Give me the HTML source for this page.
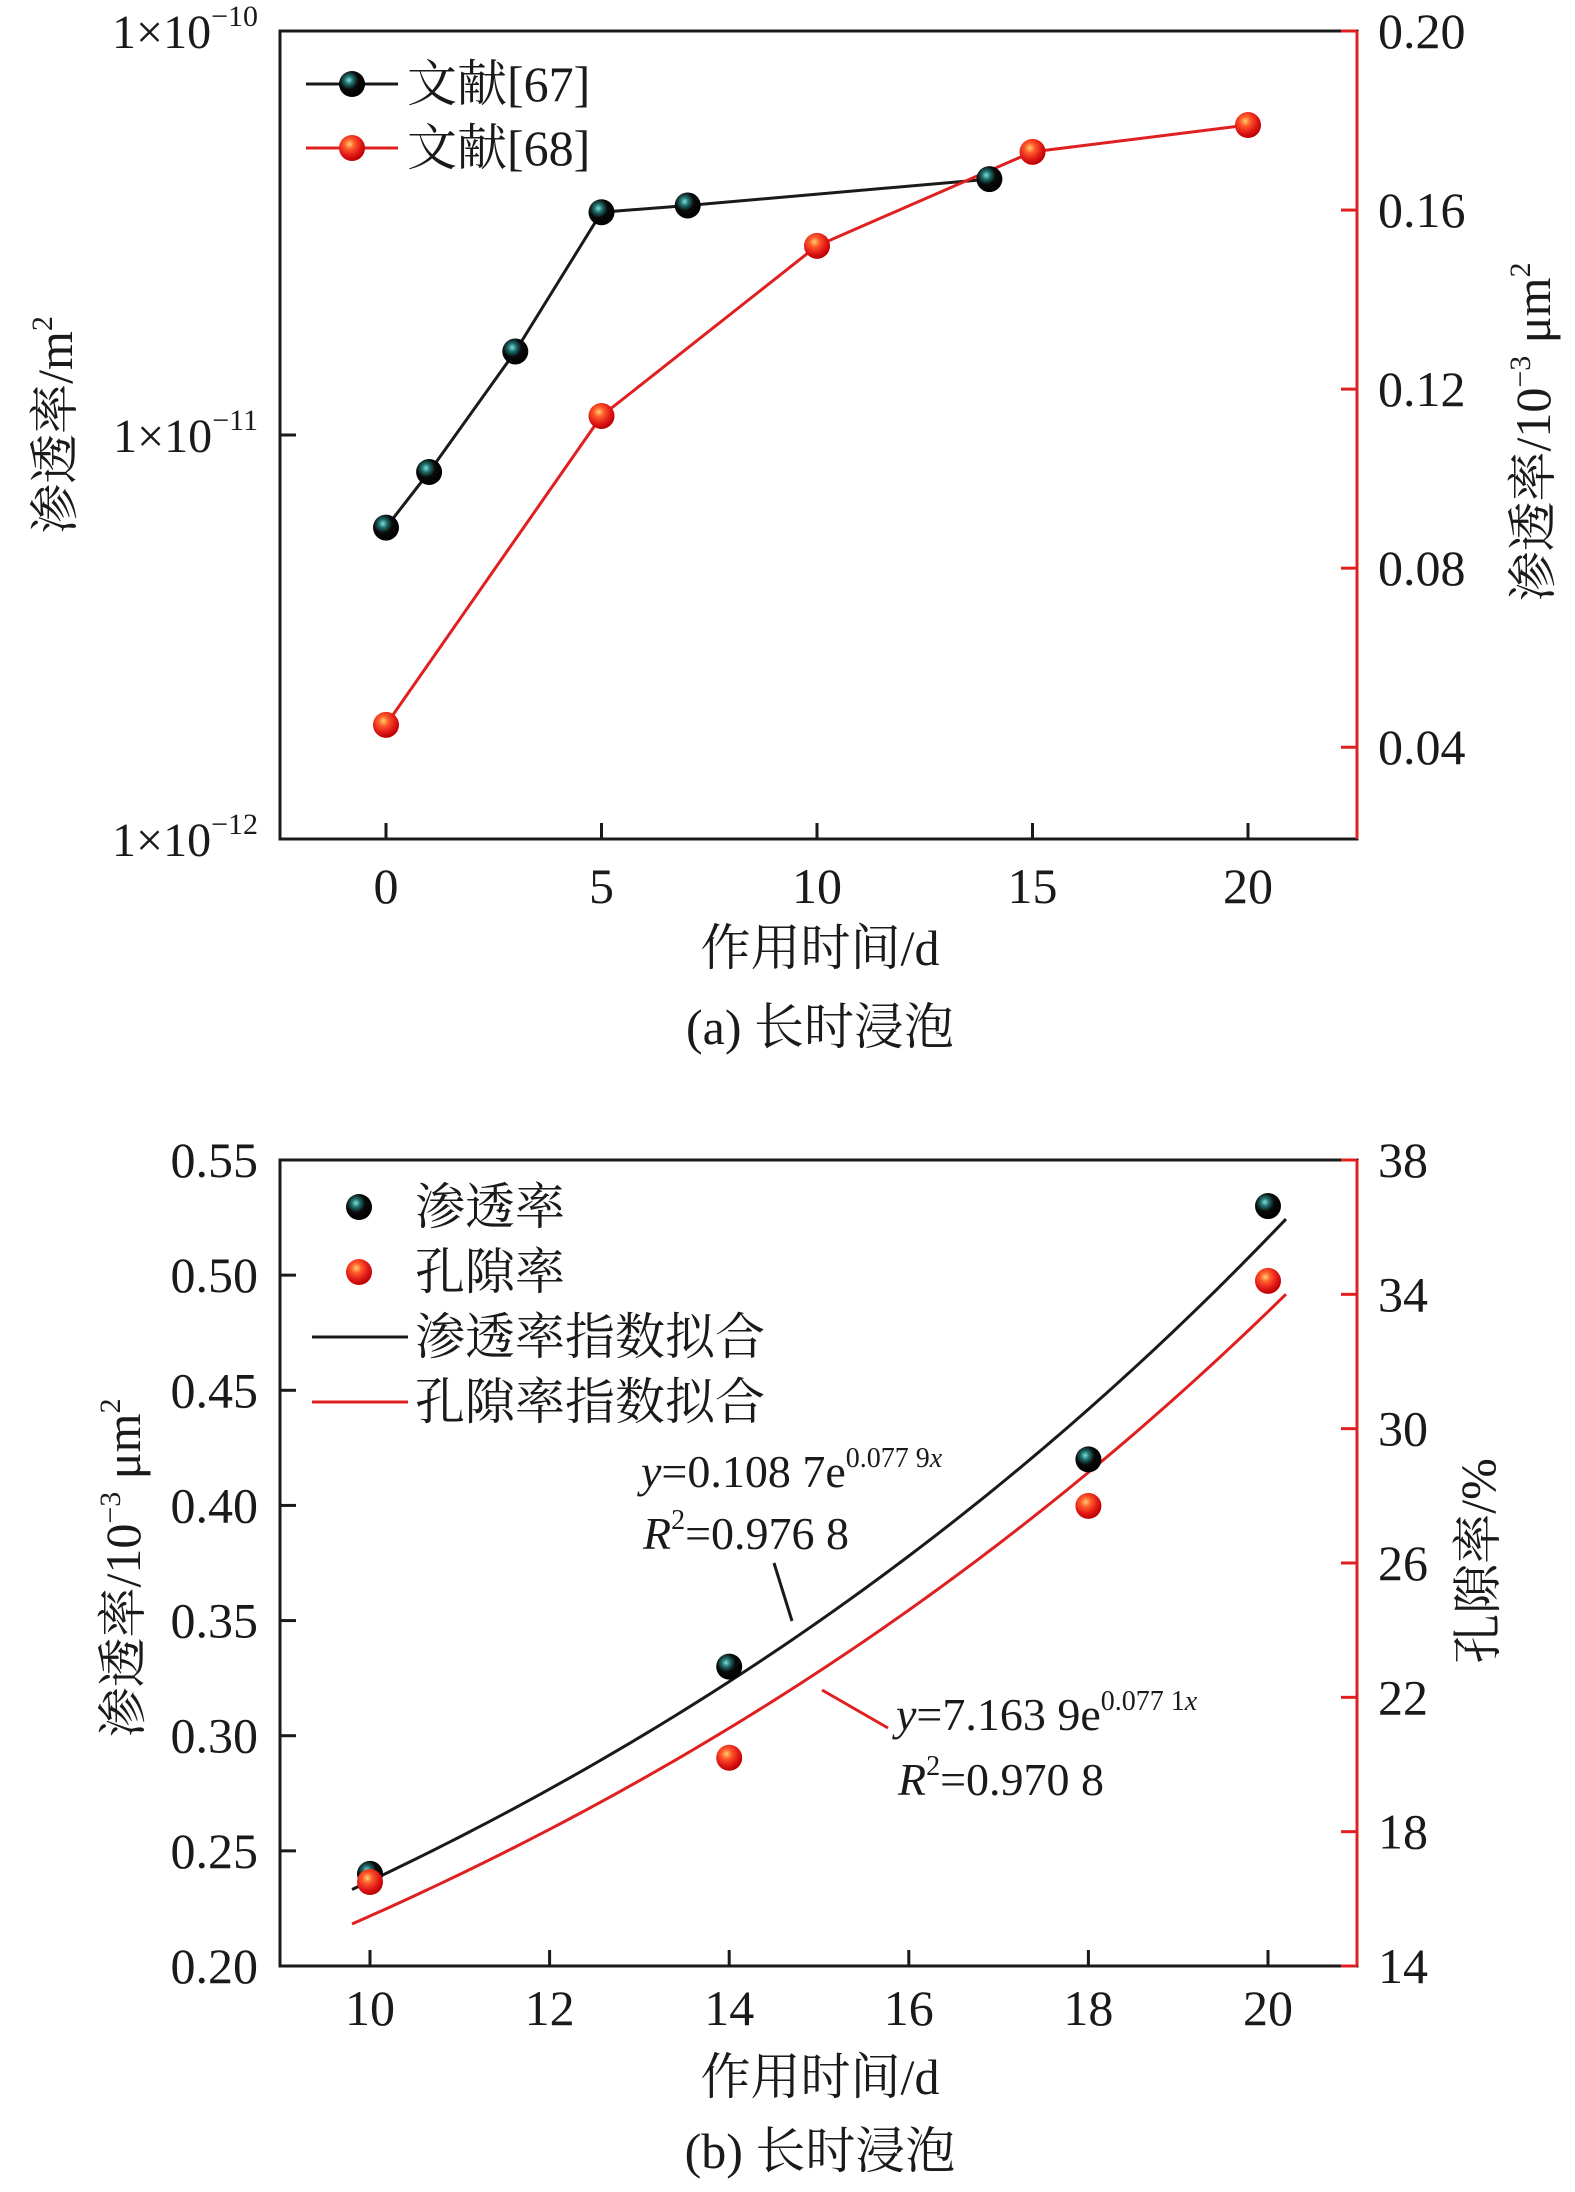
<!DOCTYPE html>
<html><head><meta charset="utf-8">
<style>
html,body{margin:0;padding:0;background:#fff;}
svg{display:block;}
text{font-family:"Liberation Serif","Noto Serif CJK SC",serif;fill:#1a1a1a;}
</style></head>
<body>
<svg id="chart" width="1575" height="2192" viewBox="0 0 1575 2192" xmlns="http://www.w3.org/2000/svg">
<defs>
<radialGradient id="gBlack" cx="0.38" cy="0.35" r="0.65">
<stop offset="0" stop-color="#7fe0dc"/><stop offset="0.25" stop-color="#1f6f6c"/><stop offset="0.55" stop-color="#0a0a0a"/><stop offset="1" stop-color="#000"/>
</radialGradient>
<radialGradient id="gRed" cx="0.4" cy="0.35" r="0.65">
<stop offset="0" stop-color="#ffd070"/><stop offset="0.3" stop-color="#ff5a2a"/><stop offset="0.7" stop-color="#e01818"/><stop offset="1" stop-color="#b00"/>
</radialGradient>
</defs>
<g id="A"></g>
<g id="B"></g>
</svg>
<script>
// ---- Chart (a) data ----
const aXTicks = [0, 5, 10, 15, 20];
const aRightTicks = [0.04, 0.08, 0.12, 0.16, 0.20];
const aBlackX = [0, 1, 3, 5, 7, 14];
const aBlackY = [5.9e-12, 8.1e-12, 1.61e-11, 3.56e-11, 3.7e-11, 4.3e-11];
const aRedX = [0, 5, 10, 15, 20];
const aRedY = [0.045, 0.114, 0.152, 0.173, 0.179];
// ---- Chart (b) data ----
const bXTicks = [10, 12, 14, 16, 18, 20];
const bLeftTicks = [0.20, 0.25, 0.30, 0.35, 0.40, 0.45, 0.50, 0.55];
const bRightTicks = [14, 18, 22, 26, 30, 34, 38];
const bX = [10, 14, 18, 20];
const bPerm = [0.24, 0.33, 0.42, 0.53];
const bPoro = [16.5, 20.2, 27.7, 34.4];
const bFitPerm = [0.1087, 0.0779];
const bFitPoro = [7.1639, 0.0771];

const NS = "http://www.w3.org/2000/svg";
function mk(parent, tag, attrs, txt){
  const e = document.createElementNS(NS, tag);
  for (const k in attrs) e.setAttribute(k, attrs[k]);
  if (txt !== undefined) e.textContent = txt;
  parent.appendChild(e); return e;
}
const RED = "#e02020";

// ================= Chart A =================
const A = document.getElementById('A');
const aL = 280, aR = 1357, aT = 31, aB = 839;
const axA = v => 386 + (v - 0) * (1248 - 386) / 20;
const ayLog = v => aT + (-10 - Math.log10(v)) * (aB - aT) / 2;
const ayR = v => aT + (0.20 - v) * (aB - aT) / 0.1805;

let fr = mk(A, 'rect', {x:aL, y:aT, width:aR-aL, height:aB-aT, fill:'none', stroke:'#1a1a1a', 'stroke-width':3});


let ra = mk(A, 'line', {x1:aR, y1:aT, x2:aR, y2:aB, stroke:RED, 'stroke-width':3});



aXTicks.forEach(v => {
  const x = axA(v);
  let t = mk(A, 'line', {x1:x, y1:aB, x2:x, y2:aB-16, stroke:'#1a1a1a', 'stroke-width':3});
  
  
  let l = mk(A, 'text', {x:x, y:903, 'font-size':50, 'text-anchor':'middle'}, String(v));
  
  
});
[-10, -11, -12].forEach(p => {
  const y = ayLog(Math.pow(10, p));
  let t = mk(A, 'line', {x1:aL, y1:y, x2:aL+16, y2:y, stroke:'#1a1a1a', 'stroke-width':3});
  
  
  let l = mk(A, 'text', {x:258, y:y+17, 'font-size':48, 'text-anchor':'end'});
  
  
  mk(l, 'tspan', {}, '1×10');
  mk(l, 'tspan', {'font-size':30, dy:-22}, '−' + (-p));
});
aRightTicks.forEach(v => {
  const y = ayR(v);
  let t = mk(A, 'line', {x1:aR, y1:y, x2:aR-16, y2:y, stroke:RED, 'stroke-width':3});
  
  
  let l = mk(A, 'text', {x:1378, y:y+17, 'font-size':50}, v.toFixed(2));
  
  
});
let t1 = mk(A, 'text', {x:0, y:0, 'font-size':50, 'text-anchor':'middle', transform:'translate(72,425) rotate(-90)'});


mk(t1, 'tspan', {}, '渗透率/m');
mk(t1, 'tspan', {'font-size':30, dy:-20}, '2');
let t2 = mk(A, 'text', {x:0, y:0, 'font-size':50, 'text-anchor':'middle', transform:'translate(1550,432) rotate(-90)'});


mk(t2, 'tspan', {}, '渗透率/10');
mk(t2, 'tspan', {'font-size':30, dy:-20}, '−3');
mk(t2, 'tspan', {dy:20}, ' μm');
mk(t2, 'tspan', {'font-size':30, dy:-20}, '2');
let xt = mk(A, 'text', {x:820, y:965, 'font-size':50, 'text-anchor':'middle'}, '作用时间/d');


let cap = mk(A, 'text', {x:820, y:1044, 'font-size':50, 'text-anchor':'middle'}, '(a) 长时浸泡');



let pb = mk(A, 'polyline', {points: aBlackX.map((x,i)=>axA(x)+','+ayLog(aBlackY[i])).join(' '), fill:'none', stroke:'#1a1a1a', 'stroke-width':3});


let pr = mk(A, 'polyline', {points: aRedX.map((x,i)=>axA(x)+','+ayR(aRedY[i])).join(' '), fill:'none', stroke:RED, 'stroke-width':3});


aBlackX.forEach((x,i) => {
  let c = mk(A, 'circle', {cx:axA(x), cy:ayLog(aBlackY[i]), r:13, fill:'url(#gBlack)'});
  
  
});
aRedX.forEach((x,i) => {
  let c = mk(A, 'circle', {cx:axA(x), cy:ayR(aRedY[i]), r:13, fill:'url(#gRed)'});
  
  
});
// legend a
[['文献[67]', '#1a1a1a', 'url(#gBlack)', 84], ['文献[68]', RED, 'url(#gRed)', 148]].forEach(([lbl, col, fill, y]) => {
  let g = mk(A, 'g', {});
  
  
  mk(g, 'line', {x1:306, y1:y, x2:398, y2:y, stroke:col, 'stroke-width':3});
  mk(g, 'circle', {cx:352, cy:y, r:13, fill:fill});
  mk(g, 'text', {x:407, y:y+17, 'font-size':50}, lbl);
});

// ================= Chart B =================
const B = document.getElementById('B');
const bL = 280, bR = 1357, bT = 1160, bB = 1966;
const bxS = v => 370 + (v - 10) * (1268 - 370) / 10;
const byL = v => bT + (0.55 - v) * (bB - bT) / 0.35;
const byR = v => bT + (38 - v) * (bB - bT) / 24;

let frb = mk(B, 'rect', {x:bL, y:bT, width:bR-bL, height:bB-bT, fill:'none', stroke:'#1a1a1a', 'stroke-width':3});


let rb = mk(B, 'line', {x1:bR, y1:bT, x2:bR, y2:bB, stroke:RED, 'stroke-width':3});


bXTicks.forEach(v => {
  const x = bxS(v);
  let t = mk(B, 'line', {x1:x, y1:bB, x2:x, y2:bB-16, stroke:'#1a1a1a', 'stroke-width':3});
  
  
  let l = mk(B, 'text', {x:x, y:2025, 'font-size':50, 'text-anchor':'middle'}, String(v));
  
  
});
bLeftTicks.forEach(v => {
  const y = byL(v);
  let t = mk(B, 'line', {x1:bL, y1:y, x2:bL+16, y2:y, stroke:'#1a1a1a', 'stroke-width':3});
  
  
  let l = mk(B, 'text', {x:258, y:y+17, 'font-size':50, 'text-anchor':'end'}, v.toFixed(2));
  
  
});
bRightTicks.forEach(v => {
  const y = byR(v);
  let t = mk(B, 'line', {x1:bR, y1:y, x2:bR-16, y2:y, stroke:RED, 'stroke-width':3});
  
  
  let l = mk(B, 'text', {x:1378, y:y+17, 'font-size':50}, String(v));
  
  
});
let t3 = mk(B, 'text', {x:0, y:0, 'font-size':50, 'text-anchor':'middle', transform:'translate(140,1568) rotate(-90)'});


mk(t3, 'tspan', {}, '渗透率/10');
mk(t3, 'tspan', {'font-size':30, dy:-20}, '−3');
mk(t3, 'tspan', {dy:20}, ' μm');
mk(t3, 'tspan', {'font-size':30, dy:-20}, '2');
let t4 = mk(B, 'text', {x:0, y:0, 'font-size':50, 'text-anchor':'middle', transform:'translate(1495,1561) rotate(-90)'}, '孔隙率/%');


let xtb = mk(B, 'text', {x:820, y:2094, 'font-size':50, 'text-anchor':'middle'}, '作用时间/d');


let capb = mk(B, 'text', {x:820, y:2168, 'font-size':50, 'text-anchor':'middle'}, '(b) 长时浸泡');



function fitPts(ab, ys){
  const pts = [];
  for (let x = 9.8; x <= 20.2001; x += 0.1) pts.push(bxS(x) + ',' + ys(ab[0] * Math.exp(ab[1] * x)));
  return pts.join(' ');
}
let fp = mk(B, 'polyline', {points: fitPts(bFitPerm, byL), fill:'none', stroke:'#1a1a1a', 'stroke-width':3});


let fo = mk(B, 'polyline', {points: fitPts(bFitPoro, byR), fill:'none', stroke:RED, 'stroke-width':3});


bX.forEach((x,i) => {
  let c = mk(B, 'circle', {cx:bxS(x), cy:byL(bPerm[i]), r:13, fill:'url(#gBlack)'});
  
  
});
bX.forEach((x,i) => {
  let c = mk(B, 'circle', {cx:bxS(x), cy:byR(bPoro[i]), r:13, fill:'url(#gRed)'});
  
  
});
// legend b
[['渗透率', 'pt', 'url(#gBlack)', 1207], ['孔隙率', 'pt', 'url(#gRed)', 1272], ['渗透率指数拟合', 'ln', '#1a1a1a', 1337], ['孔隙率指数拟合', 'ln', RED, 1402]].forEach(([lbl, kind, col, y]) => {
  let g = mk(B, 'g', {});
  
  
  if (kind === 'pt') mk(g, 'circle', {cx:359, cy:y, r:13, fill:col});
  else mk(g, 'line', {x1:312, y1:y, x2:408, y2:y, stroke:col, 'stroke-width':3});
  mk(g, 'text', {x:415, y:y+17, 'font-size':50}, lbl);
});
// annotations
function eq(x, y, a, b, name){
  let t = mk(B, 'text', {x:x, y:y, 'font-size':46});
  
  
  mk(t, 'tspan', {'font-style':'italic'}, 'y');
  mk(t, 'tspan', {}, '=' + a + 'e');
  mk(t, 'tspan', {'font-size':28, dy:-20}, b);
  mk(t, 'tspan', {'font-size':28, 'font-style':'italic'}, 'x');
}
function r2(x, y, v, name){
  let t = mk(B, 'text', {x:x, y:y, 'font-size':46});
  
  
  mk(t, 'tspan', {'font-style':'italic'}, 'R');
  mk(t, 'tspan', {'font-size':28, dy:-20}, '2');
  mk(t, 'tspan', {dy:20}, '=' + v);
}
eq(641, 1487, '0.108 7', '0.077 9', 'perm-fit-equation');
r2(643, 1549, '0.976 8', 'perm-fit-r2');
let l1 = mk(B, 'line', {x1:774, y1:1563, x2:792, y2:1621, stroke:'#1a1a1a', 'stroke-width':3});


eq(896, 1730, '7.163 9', '0.077 1', 'poro-fit-equation');
r2(898, 1795, '0.970 8', 'poro-fit-r2');
let l2 = mk(B, 'line', {x1:822, y1:1690, x2:888, y2:1728, stroke:RED, 'stroke-width':3});


</script>
</body></html>
